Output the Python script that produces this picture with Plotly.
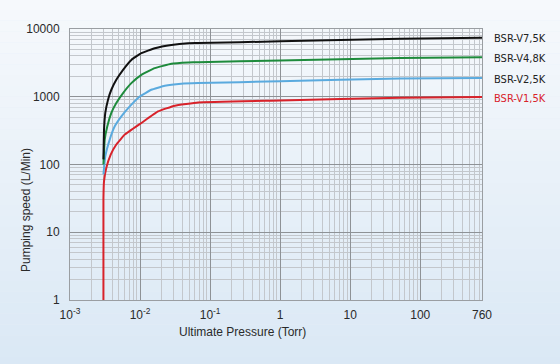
import math
import plotly.graph_objects as go

# ---- data ----
series_names = ["BSR-V7,5K", "BSR-V4,8K", "BSR-V2,5K", "BSR-V1,5K"]

black_x = [0.003, 0.00306, 0.00319, 0.00349, 0.00389, 0.00458, 0.00572, 0.00751,
           0.01044, 0.01622, 0.02801, 0.04852, 0.06743, 1, 52, 760]
black_y = [119, 327, 576, 903, 1268, 1778, 2495, 3500,
           4393, 5200, 5817, 6165, 6200, 6570, 7200, 7450]

green_x = [0.003, 0.00313, 0.00341, 0.00389, 0.00458, 0.00572, 0.00751, 0.01044,
           0.01622, 0.02801, 0.04852, 0.06743, 1, 52, 760]
green_y = [100, 233, 366, 576, 807, 1132, 1589, 2107,
           2642, 3058, 3195, 3238, 3428, 3746, 3836]

blue_x = [0.003, 0.00319, 0.00369, 0.00435, 0.00541, 0.00713, 0.0099, 0.01449,
          0.02254, 0.03891, 0.06743, 1, 52, 760]
blue_y = [71.3, 132, 233, 366, 513, 720, 1009, 1268,
          1452, 1553, 1589, 1695, 1858, 1884]

red_x = [0.003, 0.003, 0.00306, 0.0033, 0.00381, 0.00458, 0.00604, 0.01044,
         0.01808, 0.03133, 0.06743, 1, 52, 760]
red_y = [1, 30.6, 56.8, 89.4, 140, 197, 276, 410,
         608, 738, 825, 879, 967, 990]

x_tickvals = [0.001, 0.01, 0.1, 1, 10, 100, 760]
x_ticktext = ["10<sup>-3</sup>", "10<sup>-2</sup>", "10<sup>-1</sup>", "1", "10", "100", "760"]
y_tickvals = [1, 10, 100, 1000, 10000]
y_ticktext = ["1", "10", "100", "1000", "10000"]

x_title = "Ultimate Pressure (Torr)"
y_title = "Pumping speed (L/Min)"

colors = ["#111111", "#1e8b3c", "#5aaade", "#d8222a"]
label_colors = ["#222222", "#222222", "#222222", "#d8222a"]

xs = [black_x, green_x, blue_x, red_x]
ys = [black_y, green_y, blue_y, red_y]

fig = go.Figure()
for i in [3, 2, 1, 0]:
    fig.add_trace(go.Scatter(
        x=xs[i], y=ys[i], mode="lines", name=series_names[i],
        line=dict(color=colors[i], width=2, shape="spline", smoothing=0.3),
        showlegend=False, hoverinfo="skip"))

label_font = "DejaVu Sans Condensed, Liberation Sans"
for i in range(4):
    fig.add_annotation(x=math.log10(xs[i][-1]), y=math.log10(ys[i][-1]),
                       xref="x", yref="y", text=series_names[i], showarrow=False,
                       xanchor="left", xshift=10, yshift=-1,
                       font=dict(family=label_font, size=11, color=label_colors[i]))

axis_font = dict(family="Liberation Sans, Arial", size=12, color="#2a2a2a")

fig.add_annotation(x=0.4175, y=-0.118, xref="paper", yref="paper", text=x_title,
                   showarrow=False, xanchor="center", yanchor="middle", font=axis_font)
fig.add_annotation(x=-0.1068, y=0.332, xref="paper", yref="paper", text=y_title,
                   showarrow=False, xanchor="center", yanchor="middle", textangle=-90,
                   font=axis_font)

# background gradient
shapes = []
n = 40
top = (247, 249, 252)
bot = (214, 230, 244)
for k in range(n):
    t = k / (n - 1)
    c = tuple(int(round(top[j] + (bot[j] - top[j]) * t)) for j in range(3))
    shapes.append(dict(type="rect", xref="paper", yref="paper",
                       x0=-0.2, x1=1.3, y0=1.15 - (k + 1) * 1.6 / n, y1=1.15 - k * 1.6 / n,
                       fillcolor="rgb(%d,%d,%d)" % c, line=dict(width=0), layer="below"))

fig.update_layout(
    width=560, height=364,
    margin=dict(l=70, r=78, t=29, b=64),
    paper_bgcolor="#e6eff8",
    plot_bgcolor="rgba(0,0,0,0)",
    shapes=shapes,
    font=axis_font,
    xaxis=dict(type="log", range=[-3, math.log10(760)], tickvals=x_tickvals, ticktext=x_ticktext,
               showgrid=True, gridcolor="#8e9296", gridwidth=1,
               minor=dict(showgrid=True, gridcolor="#c3c7cc", gridwidth=1, dtick="D1"),
               showline=True, linecolor="#9a9ea2", mirror=True, ticks="",
               zeroline=False, ticklabelstandoff=4,
               tickfont=axis_font),
    yaxis=dict(type="log", range=[0, 4], tickvals=y_tickvals, ticktext=y_ticktext,
               showgrid=True, gridcolor="#8e9296", gridwidth=1,
               minor=dict(showgrid=True, gridcolor="#c3c7cc", gridwidth=1, dtick="D1"),
               showline=True, linecolor="#9a9ea2", mirror=True, ticks="",
               zeroline=False, ticklabelstandoff=7,
               tickfont=axis_font),
)

fig.write_html("out.html", config={"displayModeBar": False},
               post_script="document.body.style.margin='0';document.body.style.overflow='hidden';")
